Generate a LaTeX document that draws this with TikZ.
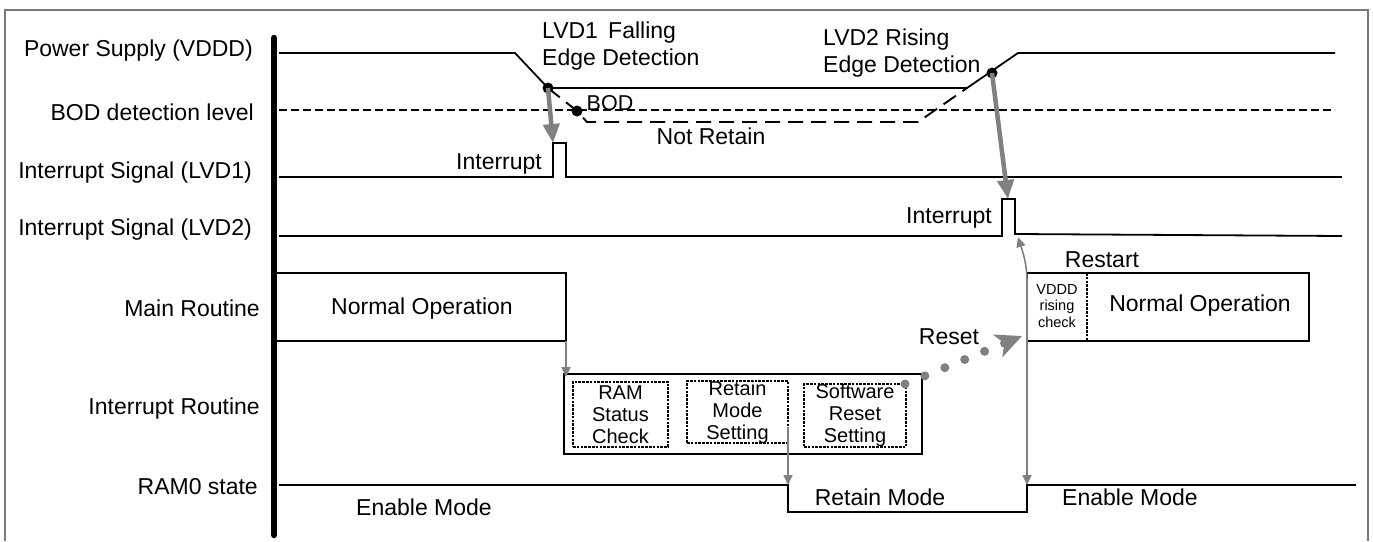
\documentclass[tikz,border=0pt]{standalone}
\usepackage{fontspec}
\setmainfont{Liberation Sans}
\usetikzlibrary{arrows.meta}
\definecolor{agray}{HTML}{808080}
\definecolor{fgray}{HTML}{7A7A7A}
\tikzset{
  lbl/.style={font=\fontsize{23}{27}\selectfont, anchor=east, inner sep=0pt},
  txt/.style={font=\fontsize{23}{27}\selectfont, inner sep=0pt},
  two/.style={font=\fontsize{23}{27.5}\selectfont, inner sep=0pt, align=left, anchor=west},
  small/.style={font=\fontsize{20}{22}\selectfont, align=center, inner sep=0pt},
  tiny/.style={font=\fontsize{14.5}{16.5}\selectfont, align=center, inner sep=0pt},
  sig/.style={line width=1.8pt},
  bod/.style={line width=2.2pt, dash pattern=on 8pt off 4pt},
  lowv/.style={line width=1.9pt, dash pattern=on 15pt off 8pt},
  box/.style={draw, line width=1.8pt, inner sep=0pt},
  dbox/.style={draw, line width=2.6pt, dash pattern=on 2.6pt off 1.2pt, inner sep=0pt},
  gthick/.style={line width=4.5pt, draw=agray, -{Triangle[length=19pt,width=16pt]}},
  gthin/.style={line width=1.6pt, draw=agray, -{Triangle[length=10pt,width=9pt]}},
  gboth/.style={line width=1.6pt, draw=agray, {Triangle[length=10pt,width=9pt]}-{Triangle[length=10pt,width=9pt]}},
  bdot/.style={circle, fill=black, inner sep=0pt, minimum size=11pt},
}
\begin{document}
\begin{tikzpicture}[x=1pt,y=-1pt]
\useasboundingbox (0,0) rectangle (1373,541);
% frame
\draw[fgray, line width=1.4pt] (5,541) -- (5,10) -- (1368,10) -- (1368,541);

% left labels
\node[lbl] (lPS)  at (253,51)  {Power Supply (VDDD)};
\node[lbl] (lBOD) at (254,112) {BOD detection level};
\node[lbl] (lI1)  at (252,173) {Interrupt Signal (LVD1)};
\node[lbl] (lI2)  at (252,230) {Interrupt Signal (LVD2)};
\node[lbl] (lMR)  at (260,308) {Main Routine};
\node[lbl] (lIR)  at (260,409) {Interrupt Routine};
\node[lbl] (lRAM) at (258,487) {RAM0 state};

% BOD level
\draw[bod] (279,110) -- (1335,110);

% power supply
\draw[sig] (279,53) -- (515,53) -- (548,88) -- (967,88) -- (1018,53) -- (1335,53);
\draw[lowv] (548,88) -- (577,111) -- (587,122) -- (918,122) -- (967,88);

% LVD1 interrupt
\draw[sig] (279,177) -- (553,177) -- (553,143) -- (566,143) -- (566,177) -- (1342,177);
\coordinate (p1) at (553,143);
% LVD2 interrupt
\draw[sig] (279,236) -- (1002,236) -- (1002,199) -- (1015,199) -- (1015,234) -- (1342,236);
\coordinate (p2) at (1008,199);
\coordinate (p2f) at (1018,237);

% RAM0 state
\draw[sig] (279,485) -- (788,485) -- (788,512) -- (1027,512) -- (1027,485) -- (1356,485);
\coordinate (ramA) at (788,485);
\coordinate (ramB) at (1027,485);

% main routine boxes
\draw[box] (276,273) rectangle (566,341);
\coordinate (mainSE) at (566,341);
\node[txt] (no1) at (422,309) {Normal Operation};
\node[box, minimum width=282pt, minimum height=68pt] (mainR) at (1168,307) {};
\node[dbox, minimum width=60pt, minimum height=68pt] (vchk) at (1057,307) {};
\node[tiny] (vchkT) at (1057,306) {VDDD\\rising\\check};
\node[txt] (no2) at (1200,306) {Normal Operation};
\node[txt] (rst) at (1102,260) {Restart};

% interrupt routine
\node[box, minimum width=358pt, minimum height=80pt] (intR) at (743,414) {};
\node[dbox, minimum width=95pt, minimum height=65pt] (ramC) at (620.5,414.5) {};
\node[dbox, minimum width=101pt, minimum height=62pt] (retS) at (737.5,412) {};
\node[dbox, minimum width=102pt, minimum height=63pt] (swR) at (855,415.5) {};
\node[small] (ramCT) at (620.5,415) {RAM\\Status\\Check};
\node[small] (retST) at (737.5,412) {Retain\\Mode\\Setting};
\node[small] (swRT) at (855,415) {Software\\Reset\\Setting};

% bar
\draw[line width=6.5pt, line cap=round] (274,38) -- (274,535);

% text labels on signals
\node[two] (t1) at (542,46) {LVD1\, Falling\\Edge Detection};
\node[two] (t2) at (823,53) {LVD2 Rising\\Edge Detection};
\node[font=\fontsize{21.5}{25}\selectfont, inner sep=0pt] (bodT) at (610,103.5) {BOD};
\node[txt] (nrT) at (711,136) {Not Retain};
\node[txt] (i1T) at (499,164) {Interrupt};
\node[txt] (i2T) at (949,218) {Interrupt};
\node[txt] (resT) at (949,337) {Reset};
\node[txt] (em1) at (424,507) {Enable Mode};
\node[txt] (rmT) at (880,497) {Retain Mode};
\node[txt] (em2) at (1130,497) {Enable Mode};

% dots
\node[bdot] (d1) at (548,88) {};
\node[bdot] (d2) at (577,111) {};
\node[bdot] (d3) at (992,73) {};

% arrows
\draw[gthick] (d1.center) -- (p1);
\draw[gthick] (d3.center) -- (p2);
\draw[gthin] (mainSE) -- ([yshift=-4pt]mainSE |- intR.north);
\coordinate (retTop) at (788,427);
\draw[gthin] (retTop) -- (ramA);
\draw[gboth] (ramB) -- (1027,282) .. controls (1027,262) and (1022,250) .. (p2f);
\coordinate (rs0) at (905,384);
\coordinate (rs1) at (1022,336);
\draw[agray, line width=9pt, line cap=round, dash pattern=on 0pt off 21.5pt, -{Stealth[length=26pt,width=24pt,inset=7pt]}] (rs0) -- (rs1);
\end{tikzpicture}
\end{document}
